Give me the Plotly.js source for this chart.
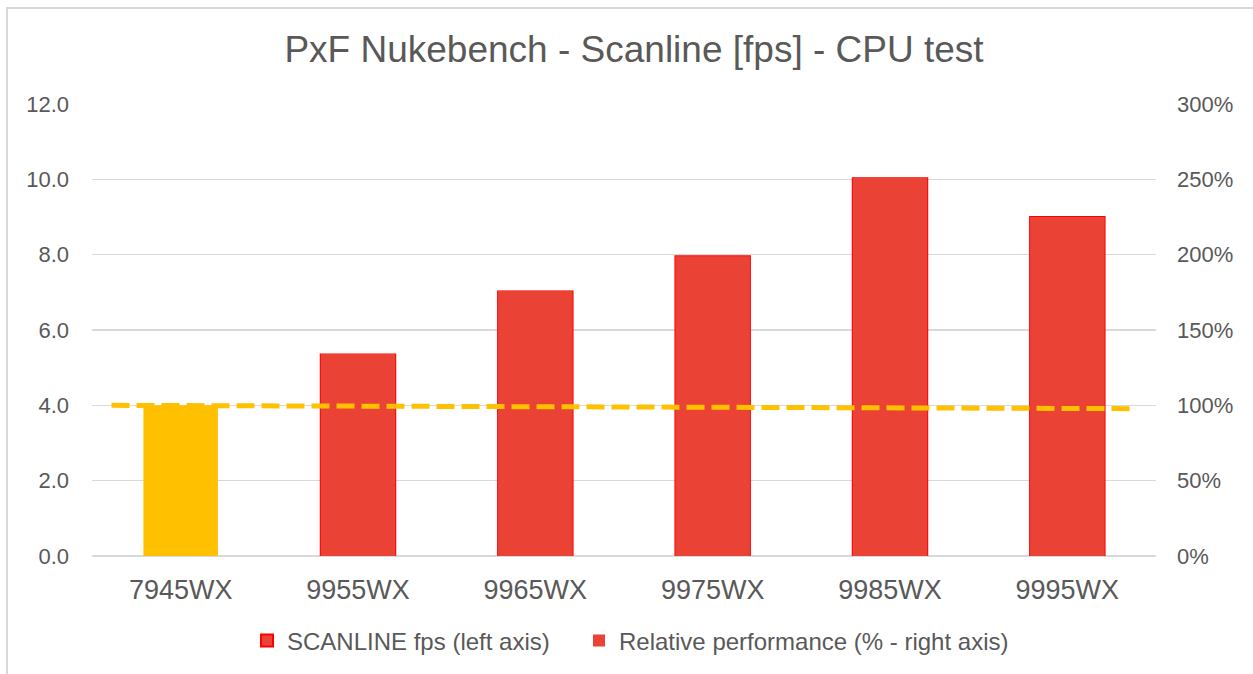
<!DOCTYPE html>
<html>
<head>
<meta charset="utf-8">
<script src="https://cdn.plot.ly/plotly-3.0.1.min.js"></script>
<style>
  html, body { margin: 0; padding: 0; background: #fff; }
  #chart { position: absolute; left: 0; top: 0; width: 1253px; height: 674px; }
  #frame { position: absolute; left: 6px; top: 7px; width: 1260px; height: 680px;
           border-left: 2px solid #d9d9d9; border-top: 2px solid #d9d9d9; pointer-events: none; }
</style>
</head>
<body>
<div id="chart"></div>
<div id="frame"></div>
<script>
// ---- data ----
const categories = ["7945WX", "9955WX", "9965WX", "9975WX", "9985WX", "9995WX"];
const baseCategory = ["7945WX"];
const baseFps = [4.0];
const compCategories = ["9955WX", "9965WX", "9975WX", "9985WX", "9995WX"];
const compFps = [5.35, 7.02, 7.96, 10.03, 9.0];
const compRelative = [134, 176, 199, 251, 225];
const trendX = [-0.39, 5.38];
const trendY = [100, 97.8];
const seriesNames = ["SCANLINE fps (left axis)", "Relative performance (% - right axis)"];

const RED = "#EA4335";
const YELLOW = "#FFC000";
const TXT = "#595959";
const GRID = "#d9d9d9";
const FONT = "Liberation Sans, Arial, sans-serif";

const traces = [
  {
    type: "bar", name: seriesNames[1], x: compCategories, y: compRelative,
    xaxis: "x", yaxis: "y2",
    marker: { color: RED, line: { width: 0 } },
    legend: "legend2", hoverinfo: "skip"
  },
  {
    type: "bar", name: seriesNames[0], x: compCategories, y: compFps,
    xaxis: "x", yaxis: "y",
    marker: { color: RED, line: { color: "#FF0000", width: 2 } },
    legend: "legend"
  },
  {
    type: "bar", name: seriesNames[0], x: baseCategory, y: baseFps,
    xaxis: "x", yaxis: "y",
    marker: { color: YELLOW, line: { width: 0 } },
    showlegend: false
  },
  {
    type: "scatter", mode: "lines", x: trendX, y: trendY,
    xaxis: "x2", yaxis: "y2",
    line: { color: YELLOW, width: 5, dash: "18px,7px" },
    showlegend: false, hoverinfo: "skip"
  }
];

const legendBase = {
  orientation: "h", xanchor: "left", y: (557 - 641) / 453, yanchor: "middle",
  font: { family: FONT, size: 24, color: TXT },
  itemclick: false, bgcolor: "rgba(0,0,0,0)", itemwidth: 30
};

const layout = {
  width: 1253, height: 674,
  paper_bgcolor: "#ffffff", plot_bgcolor: "#ffffff",
  margin: { l: 92, r: 97, t: 104, b: 117 },
  font: { family: FONT, color: TXT },
  title: {
    text: "PxF Nukebench - Scanline [fps] - CPU test",
    font: { family: FONT, size: 37, color: TXT },
    x: 0.506, xanchor: "center", y: 1 - 49 / 674, yanchor: "middle"
  },
  barmode: "overlay",
  bargap: 0.58,
  xaxis: {
    type: "category", categoryorder: "array", categoryarray: categories,
    range: [-0.5, 5.5],
    showgrid: false, showline: false, zeroline: false, ticks: "",
    tickfont: { family: FONT, size: 27, color: TXT },
    ticklabelstandoff: 15
  },
  xaxis2: {
    overlaying: "x", range: [-0.5, 5.5], visible: false, type: "linear"
  },
  yaxis: {
    range: [0, 12], dtick: 2, tickformat: ".1f",
    showgrid: true, gridcolor: GRID, gridwidth: 1.5,
    zeroline: true, zerolinecolor: GRID, zerolinewidth: 1.5,
    showline: false, ticks: "",
    tickfont: { family: FONT, size: 22, color: TXT },
    ticklabelstandoff: 22
  },
  yaxis2: {
    overlaying: "y", side: "right", range: [0, 300], dtick: 50, ticksuffix: "%",
    showgrid: false, zeroline: false, showline: false, ticks: "",
    tickfont: { family: FONT, size: 22, color: TXT },
    ticklabelstandoff: 20
  },
  showlegend: true,
  legend: Object.assign({}, legendBase, { x: (247 - 92) / 1064 }),
  legend2: Object.assign({}, legendBase, { x: (579 - 92) / 1064 })
};

Plotly.newPlot("chart", traces, layout, { displayModeBar: false, staticPlot: true });
</script>
</body>
</html>
